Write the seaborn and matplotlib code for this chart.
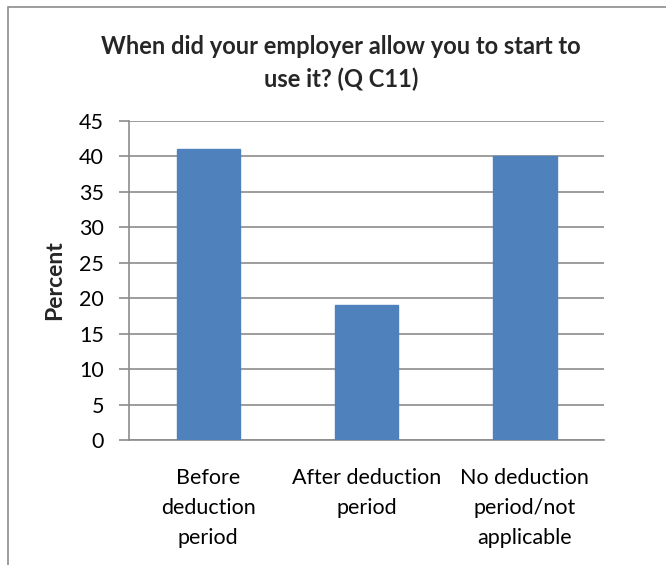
import matplotlib
matplotlib.use("Agg")
import matplotlib.pyplot as plt
from matplotlib.patches import Rectangle
import seaborn as sns
import pandas as pd

categories = ["Before\ndeduction\nperiod", "After deduction\nperiod", "No deduction\nperiod/not\napplicable"]
percent = [41, 19, 40]
y_ticks = [0, 5, 10, 15, 20, 25, 30, 35, 40, 45]

df = pd.DataFrame({"category": categories, "percent": percent})

sns.set_theme(style="white")
plt.rcParams["font.family"] = ["Lato", "DejaVu Sans"]

W, H = 666, 565
fig = plt.figure(figsize=(W / 100, H / 100), dpi=100)
ax = fig.add_axes([129 / W, 1 - 440 / H, (604 - 129) / W, (440 - 121) / H])

sns.barplot(data=df, x="category", y="percent", color="#4F81BD", saturation=1,
            width=0.40, ax=ax, zorder=3, edgecolor="#4F81BD")

ax.set_ylim(0, 45)
ax.set_yticks(y_ticks)
ax.set_xlim(-0.5, 2.5)
ax.yaxis.grid(True, color="#8C8C8C", linewidth=1.2, zorder=0)
ax.set_axisbelow(True)

for side in ["top", "right"]:
    ax.spines[side].set_visible(False)
ax.spines["left"].set_color("#8C8C8C")
ax.spines["bottom"].set_color("#8C8C8C")
ax.spines["left"].set_linewidth(1.2)
ax.spines["bottom"].set_linewidth(1.2)

ax.tick_params(axis="y", which="both", left=True, length=7, width=1.2, color="#8C8C8C",
               labelsize=15.5, labelcolor="black", pad=11)
ax.tick_params(axis="x", bottom=False, labelsize=15.5, labelcolor="black", pad=14)
for lbl in ax.get_xticklabels():
    lbl.set_linespacing(1.62)

ax.set_xlabel("")
ax.set_ylabel("Percent", fontsize=16.5, fontweight="bold", labelpad=10)

fig.text(341 / W, 1 - 63 / H, "When did your employer allow you to start to\nuse it? (Q C11)",
         ha="center", va="center", fontsize=17, fontweight="bold", linespacing=1.45)

# outer chart frame
fig.patches.append(Rectangle((8 / W, -0.1), 1.2, 1 - 7 / H + 0.1, transform=fig.transFigure,
                             fill=False, edgecolor="#8C8C8C", linewidth=1.2))

fig.savefig("out.png", dpi=100)
